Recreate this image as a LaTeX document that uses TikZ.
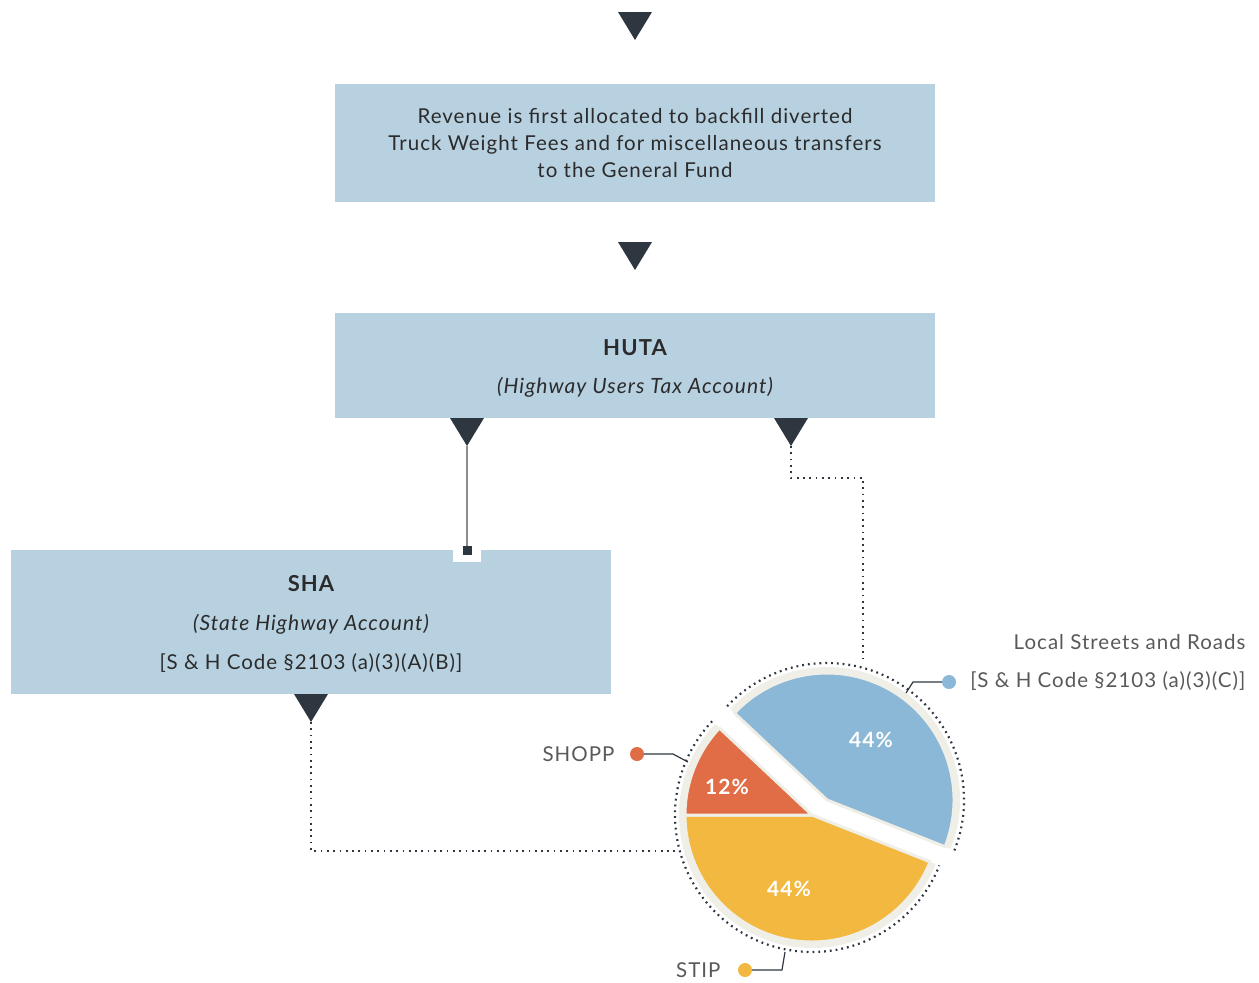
\documentclass[tikz,border=0pt]{standalone}
\usepackage{fontspec}
\setmainfont{Lato}[LetterSpace=5]
\begin{document}
\begin{tikzpicture}[x=1pt,y=-1pt,
  boxfill/.style={fill=boxblue, draw=none, inner sep=0pt},
  arrowtri/.style={fill=tridark},
  boxtext/.style={text=textdark, font=\fontsize{20.5}{23}\selectfont, align=center},
  boxhead/.style={text=textdark, font=\fontsize{22}{25}\selectfont\bfseries},
  boxsub/.style={text=textdark, font=\fontsize{21}{23}\selectfont\itshape},
  labeltext/.style={text=labelgrey, font=\fontsize{20.5}{23}\selectfont},
  pct/.style={text=white, font=\fontsize{21}{23}\selectfont\bfseries},
  dotline/.style={draw=tridark, line width=1.8pt, dash pattern=on 1.7pt off 4.6pt},
  rimdots/.style={draw=tridark, line width=2.2pt, dash pattern=on 1.8pt off 4.0pt},
  leader/.style={draw=tridark, line width=1.2pt},
  slice/.style={draw=ringbeige, line width=3pt, line join=round},
]
\definecolor{boxblue}{HTML}{B8D1E1}
\definecolor{tridark}{HTML}{2E373F}
\definecolor{textdark}{HTML}{2B2B2B}
\definecolor{labelgrey}{HTML}{58595B}
\definecolor{ringbeige}{HTML}{EFEEE7}
\definecolor{pieblue}{HTML}{8AB8D6}
\definecolor{pieorange}{HTML}{E06D45}
\definecolor{pieyellow}{HTML}{F2B83F}
\definecolor{stemgrey}{HTML}{8C8C8C}

\useasboundingbox (0,0) rectangle (1259,983);

% boxes
\node[boxfill, minimum width=600pt, minimum height=118pt, anchor=north west] (rev) at (335,84) {};
\node[boxfill, minimum width=600pt, minimum height=105pt, anchor=north west] (huta) at (335,313) {};
\node[boxfill, minimum width=600pt, minimum height=144pt, anchor=north west] (sha) at (11,550) {};

% box texts
\node[boxtext] (revtxt) at (635,143) {Revenue is first allocated to backfill diverted\\[4pt]Truck Weight Fees and for miscellaneous transfers\\[4pt]to the General Fund};
\node[boxhead] (hutahead) at (635,348) {HUTA};
\node[boxsub] (hutasub) at (635,387) {(Highway Users Tax Account)};
\node[boxhead] (shahead) at (311,584) {SHA};
\node[boxsub] (shasub) at (311,624) {(State Highway Account)};
\node[boxtext] (shacode) at (311,663) {[S \& H Code §2103 (a)(3)(A)(B)]};

% downward triangles
\newcommand{\downtri}[3]{%
  \fill[arrowtri] (#1-17,#2) -- (#1+17,#2) -- (#1,#2+28) -- cycle;
  \coordinate (#3) at (#1,#2+28);}
\downtri{635}{12}{t0}
\downtri{635}{242}{t1}
\downtri{467}{418}{tsha}
\downtri{791}{418}{tlocal}
\downtri{311}{694}{tback}

% stem into SHA
\fill[white] (453,550) rectangle (481,562);
\coordinate (stemend) at (467,550);
\draw[stemgrey, line width=2pt] (tsha) -- (stemend);
\fill[tridark] (462.5,545.5) rectangle (471.5,554.5);

% pie chart
\coordinate (pc) at (812,815);
\coordinate (pb) at (827,800);
% ring bands
\fill[ringbeige] (pc) -- ++(-136.8:133) arc[start angle=-136.8, end angle=-338.4, radius=133] -- cycle;
\fill[ringbeige] (pb) -- ++(21.6:133) arc[start angle=21.6, end angle=-136.8, radius=133] -- cycle;
% slices
\filldraw[slice, fill=pieyellow] (pc) -- ++(-180:127) arc[start angle=-180, end angle=-338.4, radius=127] -- cycle;
\filldraw[slice, fill=pieorange] (pc) -- ++(-136.8:127) arc[start angle=-136.8, end angle=-180, radius=127] -- cycle;
\filldraw[slice, fill=pieblue] (pb) -- ++(21.6:127) arc[start angle=21.6, end angle=-136.8, radius=127] -- cycle;
% dotted rims
\draw[rimdots] (pc) ++(-136.8:137) arc[start angle=-136.8, end angle=-338.4, radius=137];
\draw[rimdots] (pb) ++(21.6:137) arc[start angle=21.6, end angle=-136.8, radius=137];

\node[pct] (p44b) at (871,740) {44\%};
\node[pct] (p12) at (727,787) {12\%};
\node[pct] (p44y) at (789,889) {44\%};

% rim anchor points
\coordinate (rimtop) at (863,661);
\coordinate (rimleft) at (675,851);
\coordinate (rimlocal) at (906,693);
\coordinate (rimshopp) at (688,762);
\coordinate (rimstip) at (785,952);

% dotted return paths
\draw[dotline] (tlocal) -- ++(0,5) |- (863,478) -- (rimtop);
\draw[dotline] (tback) -- ++(0,5) |- (rimleft);

% legend dots and leaders
\node[circle, fill=pieblue, minimum size=14pt, inner sep=0pt] (dlocal) at (949,682) {};
\node[circle, fill=pieorange, minimum size=14pt, inner sep=0pt] (dshopp) at (637,754) {};
\node[circle, fill=pieyellow, minimum size=14pt, inner sep=0pt] (dstip) at (745,970) {};
\draw[leader] (dlocal) -- (913,682) -- (rimlocal);
\draw[leader] (dshopp) -- (673,754) -- (rimshopp);
\draw[leader] (dstip) -- (782,970) -- (rimstip);

\node[labeltext, anchor=east] (lshopp) at (618,754) {SHOPP};
\node[labeltext, anchor=east] (lstip) at (724,970) {STIP};
\node[labeltext, anchor=east] (llocal) at (1249,642) {Local Streets and Roads};
\node[labeltext, anchor=east] (lcode) at (1249,681) {[S \& H Code §2103 (a)(3)(C)]};
\end{tikzpicture}
\end{document}
